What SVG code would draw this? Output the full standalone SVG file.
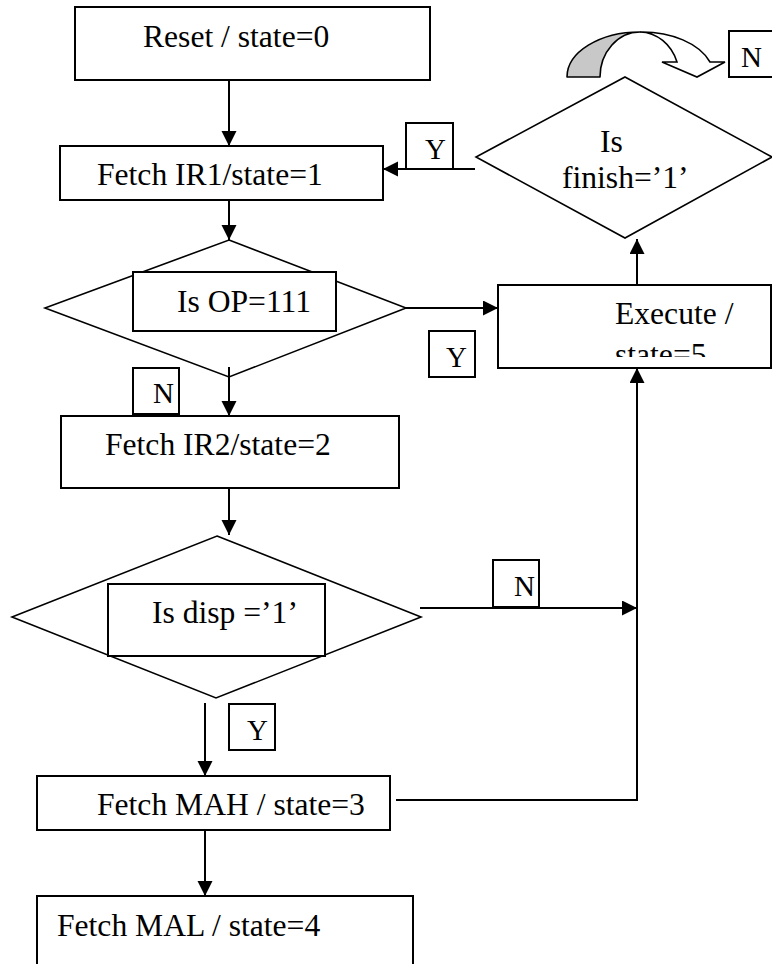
<svg xmlns="http://www.w3.org/2000/svg" width="772" height="964" viewBox="0 0 772 964">
<style>
  .box{fill:#fff;stroke:#000;stroke-width:2}
  .dia{fill:#fff;stroke:#000;stroke-width:1.6}
  .t{font-family:"Liberation Serif","Times New Roman",serif;font-size:31.6px;fill:#000}
  .s{font-family:"Liberation Serif","Times New Roman",serif;font-size:29px;fill:#000}
  .c{fill:none;stroke:#000;stroke-width:2}
</style>
<defs>
  <marker id="ah" markerUnits="userSpaceOnUse" markerWidth="16" markerHeight="16" refX="15" refY="7.5" orient="auto">
    <path d="M0,0 L15,7.5 L0,15 Z" fill="#000"/>
  </marker>
  <clipPath id="execClip"><rect x="498" y="285" width="274" height="72"/></clipPath>
</defs>

<g id="reset"><rect class="box" x="75" y="7" width="355" height="73"/><text class="t" x="143" y="47">Reset / state=0</text></g>
<g id="fetchIR1"><rect class="box" x="60" y="146" width="323" height="54"/><text class="t" x="97" y="185">Fetch IR1/state=1</text></g>
<g id="isOP"><polygon class="dia" points="229,240 406,308 229,377 45,308"/><rect class="box" x="133" y="272" width="203" height="59"/><text class="t" x="177" y="312">Is OP=111</text></g>
<g id="execute"><rect class="box" x="498" y="285" width="273" height="83"/><text class="t" x="615" y="324">Execute /</text><text class="t" x="615" y="365" clip-path="url(#execClip)">state=5</text></g>
<g id="labelY1"><rect class="box" x="429" y="331" width="46" height="46"/><text class="s" x="446" y="367">Y</text></g>
<g id="labelN1"><rect class="box" x="133" y="368" width="46" height="46"/><text class="s" x="153" y="403">N</text></g>
<g id="fetchIR2"><rect class="box" x="61" y="416" width="338" height="72"/><text class="t" x="105" y="455">Fetch IR2/state=2</text></g>
<g id="isDisp"><polygon class="dia" points="217,536 421,617 216,698 12,617"/><rect class="box" x="108" y="584" width="217" height="72"/><text class="t" x="152" y="623">Is disp =’1’</text></g>
<g id="labelN2"><rect class="box" x="493" y="560" width="46" height="47"/><text class="s" x="514" y="596">N</text></g>
<g id="labelY2"><rect class="box" x="229" y="704" width="46" height="46"/><text class="s" x="247" y="740">Y</text></g>
<g id="fetchMAH"><rect class="box" x="37" y="776" width="353" height="54"/><text class="t" x="97" y="815">Fetch MAH / state=3</text></g>
<g id="fetchMAL"><rect class="box" x="37" y="896" width="376" height="80"/><text class="t" x="57" y="936">Fetch MAL / state=4</text></g>
<g id="isFinish"><polygon class="dia" points="625,77 772,157 625,238 476,157"/><text class="t" x="600" y="152">Is</text><text class="t" x="562" y="188">finish=’1’</text></g>
<g id="labelY3"><rect class="box" x="406" y="123" width="47" height="46"/><text class="s" x="425" y="159">Y</text></g>
<g id="labelN3"><rect class="box" x="729" y="31" width="50" height="46"/><text class="s" x="741" y="67">N</text></g>
<g id="loopArrow">
  <path d="M567,77 A73,45 0 0 1 640,32 A40,45 0 0 0 600,77 Z" fill="#c8c8c8" stroke="#000" stroke-width="1.6" stroke-linejoin="round"/>
  <path d="M640,32 A72,45 0 0 1 710,62 L725,62 L697,77 L662,62 L677,62 A40,45 0 0 0 640,32 Z" fill="#fff" stroke="#000" stroke-width="1.6" stroke-linejoin="miter"/>
</g>

<g id="connectors">
  <line class="c" x1="229" y1="80" x2="229" y2="146" marker-end="url(#ah)"/>
  <line class="c" x1="229" y1="200" x2="229" y2="240" marker-end="url(#ah)"/>
  <line class="c" x1="406" y1="308" x2="498" y2="308" marker-end="url(#ah)"/>
  <line class="c" x1="229" y1="367" x2="229" y2="416" marker-end="url(#ah)"/>
  <line class="c" x1="229" y1="488" x2="229" y2="535" marker-end="url(#ah)"/>
  <line class="c" x1="420" y1="608" x2="637" y2="608" marker-end="url(#ah)"/>
  <line class="c" x1="205" y1="703" x2="205" y2="776" marker-end="url(#ah)"/>
  <polyline class="c" points="396,800 637,800 637,368" marker-end="url(#ah)"/>
  <line class="c" x1="205" y1="830" x2="205" y2="896" marker-end="url(#ah)"/>
  <line class="c" x1="637" y1="285" x2="637" y2="239" marker-end="url(#ah)"/>
  <line class="c" x1="475" y1="169" x2="383" y2="169" marker-end="url(#ah)"/>
</g>
</svg>
